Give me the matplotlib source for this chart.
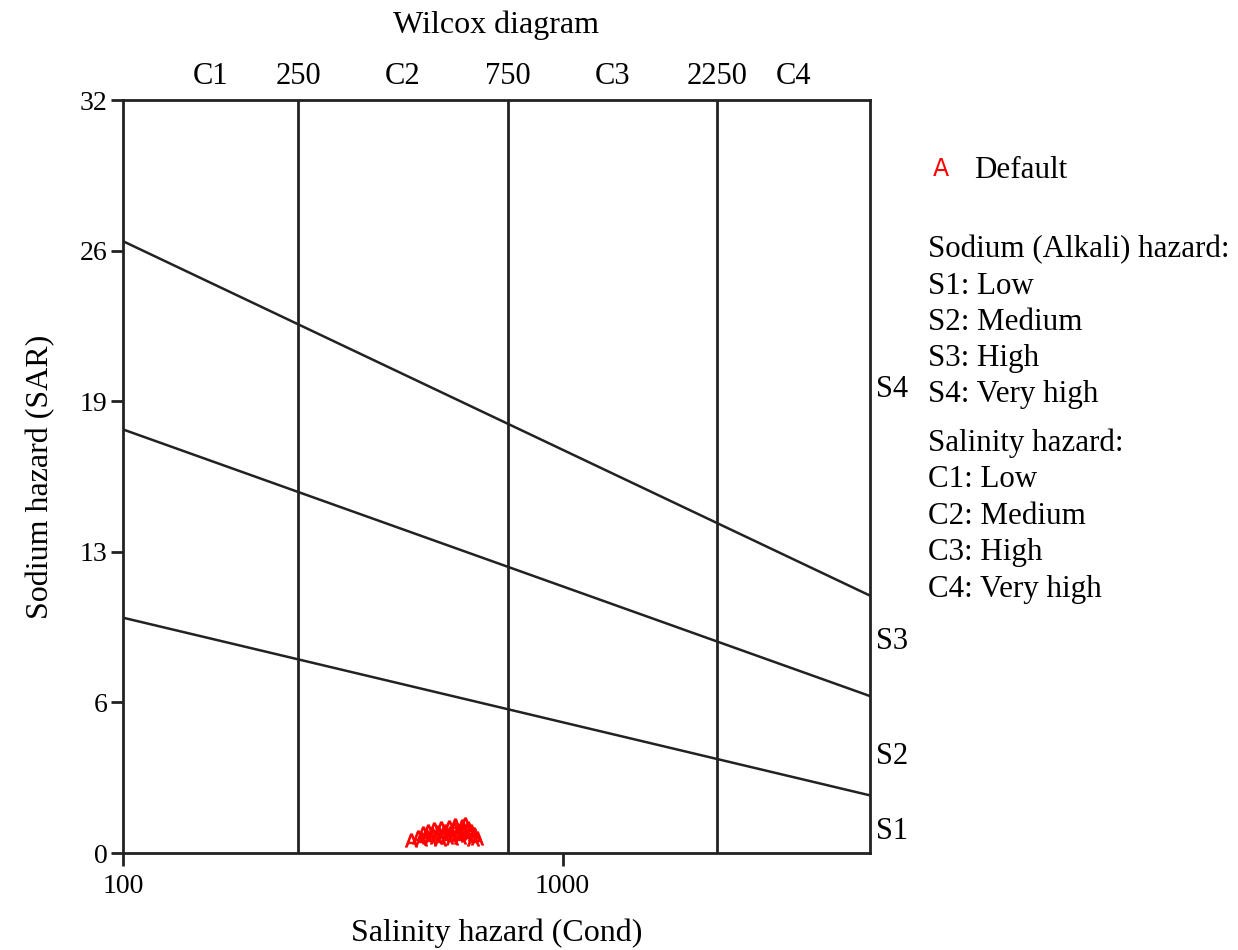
import numpy as np
import matplotlib
matplotlib.use("Agg")
import matplotlib.pyplot as plt

plt.rcParams['font.family'] = ['Liberation Serif', 'DejaVu Serif']

# salinity class boundaries (EC) and class labels
c_bounds = [250, 750, 2250]
c_labels = ['C1', 'C2', 'C3', 'C4']
x_min, x_max = 100, 5000

# sodium hazard boundary lines: SAR at EC=100 and at EC=5000
sar_at_100 = [10.0, 18.0, 26.0]
sar_at_5000 = [2.45, 6.67, 10.94]
s_labels = ['S1', 'S2', 'S3', 'S4']
s_label_y = [0.9, 4.1, 9.0, 19.7]

# samples (EC, SAR)
ec = [452, 468, 475, 480, 488, 495, 500, 505, 510, 515, 520, 525, 530, 535,
      540, 545, 550, 555, 560, 565, 570, 575, 580, 585, 590, 595, 600, 605,
      610, 615, 620, 625, 630, 638]
sar = [0.55, 0.70, 0.60, 0.85, 0.75, 0.95, 0.65, 0.80, 1.00, 0.70, 0.90, 0.60,
       1.05, 0.80, 0.95, 0.70, 1.10, 0.85, 0.65, 1.00, 1.20, 0.80, 0.95, 0.70,
       1.15, 0.90, 1.25, 0.75, 1.05, 0.85, 0.95, 0.60, 0.80, 0.65]

y_ticks = [0, 6.4, 12.8, 19.2, 25.6, 32]
y_ticklabels = ['0', '6', '13', '19', '26', '32']

legend_sodium = ['Sodium (Alkali) hazard:', 'S1: Low', 'S2: Medium', 'S3: High', 'S4: Very high']
legend_salinity = ['Salinity hazard:', 'C1: Low', 'C2: Medium', 'C3: High', 'C4: Very high']

fs = 23
fs_leg = 22.3
fs_tick = 20
fs_side = 22
fig = plt.figure(figsize=(12.38, 9.5), dpi=100)
ax = fig.add_axes([0.0994, 0.1021, 0.6033, 0.7926])
ax.set_xscale('log')
ax.set_xlim(x_min, x_max)
ax.set_ylim(0, 32)

for sp in ax.spines.values():
    sp.set_linewidth(2)
    sp.set_color('#222222')

for b in c_bounds:
    ax.axvline(b, color='#222222', lw=2)

for y0, y1 in zip(sar_at_100, sar_at_5000):
    ax.plot([x_min, x_max], [y0, y1], color='#222222', lw=1.8)

ax.scatter(ec, sar, marker=r'$\mathsf{A}$', s=90, color='red', edgecolors='red',
           linewidths=0.7, zorder=3)

ax.set_xticks([100, 1000])
ax.set_xticklabels(['100', '1000'])
ax.xaxis.set_minor_locator(matplotlib.ticker.NullLocator())
ax.set_yticks(y_ticks)
ax.set_yticklabels(y_ticklabels)
ax.tick_params(axis='both', direction='out', length=9, width=2, labelsize=fs_tick, color='#222222')
ax.tick_params(axis='x', pad=6)
ax.tick_params(axis='y', pad=2)

# top labels
trans = ax.get_xaxis_transform()
edges = [x_min] + c_bounds + [x_max]
for i, lab in enumerate(c_labels):
    mid = np.sqrt(edges[i] * edges[i + 1])
    ax.text(mid, 1.012, lab, transform=trans, ha='center', va='bottom', fontsize=fs_side)
for b in c_bounds:
    ax.text(b, 1.012, str(b), transform=trans, ha='center', va='bottom', fontsize=fs_side)

# right labels
ytrans = ax.get_yaxis_transform()
for lab, yy in zip(s_labels, s_label_y):
    ax.text(1.008, yy, lab, transform=ytrans, ha='left', va='center', fontsize=fs_side)

ax.set_title('Wilcox diagram', fontsize=fs, pad=48)
ax.set_xlabel('Salinity hazard (Cond)', fontsize=fs, labelpad=14)
ax.set_ylabel('Sodium hazard (SAR)', fontsize=fs, labelpad=18)

# legend
fig.text(0.760, 1 - 170 / 950, r'$\mathsf{A}$', color='red', fontsize=17, ha='center', va='center')
fig.text(0.787, 1 - 170 / 950, 'Default', fontsize=fs_leg, ha='left', va='center')
y = 250
for t in legend_sodium:
    fig.text(0.750, 1 - y / 950, t, fontsize=fs_leg, ha='left', va='center')
    y += 36.2
y = 443
for t in legend_salinity:
    fig.text(0.750, 1 - y / 950, t, fontsize=fs_leg, ha='left', va='center')
    y += 36.5

fig.savefig('out.png', dpi=100)
